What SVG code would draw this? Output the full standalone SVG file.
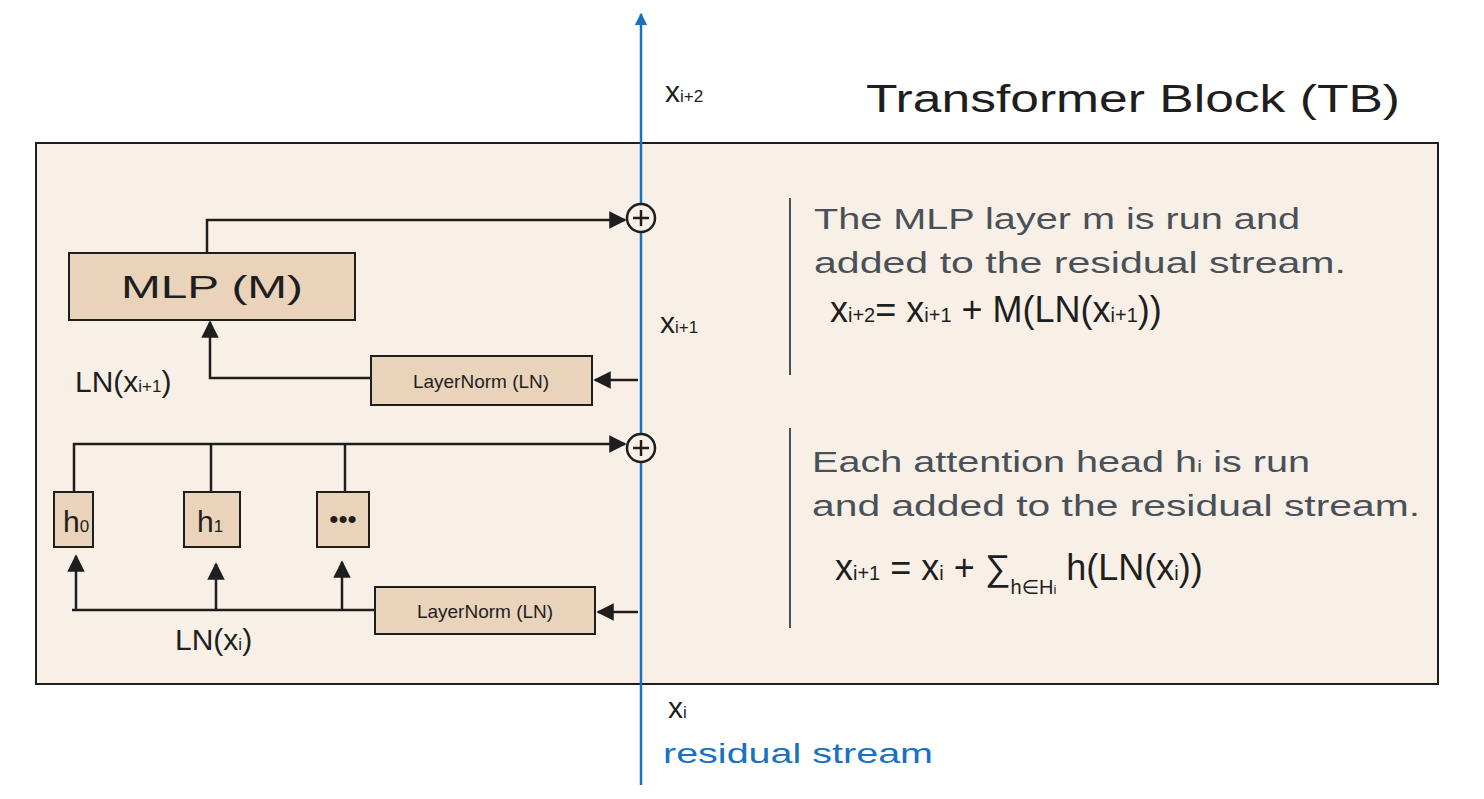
<svg xmlns="http://www.w3.org/2000/svg" width="1484" height="799" viewBox="0 0 1484 799">
<defs>
<style>
text{font-family:"Liberation Sans","DejaVu Sans",sans-serif}
.ln{stroke:#1e1e1e;stroke-width:2.5;fill:none}
.nd{fill:#e9d3ba;stroke:#1e1e1e;stroke-width:2}
.k{fill:#1e1e1e}
.g{fill:#495057;font-size:29px}
.m{fill:#1e1e1e;font-size:30px}
.s{font-size:17px}
.f{fill:#1e1e1e;font-size:36px}
.fs{font-size:20px}
</style>
<marker id="a" viewBox="0 0 10 10" refX="9" refY="5" markerWidth="7" markerHeight="7" orient="auto-start-reverse"><path d="M0,0L10,5L0,10z" fill="#1e1e1e"/></marker>
<marker id="b" viewBox="0 0 10 10" refX="9" refY="5" markerWidth="5" markerHeight="6" orient="auto"><path d="M0,0L10,5L0,10z" fill="#1971c2"/></marker>
</defs>
<rect width="1484" height="799" fill="#fff"/>
<g id="block"><rect x="36" y="143" width="1402" height="541" fill="#f8f0e7" stroke="#1e1e1e" stroke-width="2"/></g>
<text x="866" y="112" font-size="38" fill="#1e1e1e" textLength="534" lengthAdjust="spacingAndGlyphs">Transformer Block (TB)</text>
<g id="connectors">
<path d="M641,785V14" stroke="#1971c2" stroke-width="2.5" fill="none" marker-end="url(#b)"/>
<path class="ln" d="M207,253V220H625" marker-end="url(#a)"/>
<path class="ln" d="M638,380H595" marker-end="url(#a)"/>
<path class="ln" d="M371,378H210V322" marker-end="url(#a)"/>
<path class="ln" d="M74,492V444H625" marker-end="url(#a)"/>
<path class="ln" d="M211,492V444M345,492V444"/>
<path class="ln" d="M638,612H598" marker-end="url(#a)"/>
<path class="ln" d="M72,610H375"/>
<path class="ln" d="M76,610V556" marker-end="url(#a)"/>
<path class="ln" d="M216,610V564" marker-end="url(#a)"/>
<path class="ln" d="M342,610V562" marker-end="url(#a)"/>
<path d="M790,198V375M790,428V628" stroke="#495057" stroke-width="2"/>
</g>
<g id="plus1"><circle cx="641" cy="218" r="14" fill="#f8f0e7" stroke="#1e1e1e" stroke-width="2.5"/><path class="ln" d="M633,218h16M641,210v16"/></g>
<g id="plus2"><circle cx="641" cy="448" r="14" fill="#f8f0e7" stroke="#1e1e1e" stroke-width="2.5"/><path class="ln" d="M633,448h16M641,440v16"/></g>
<g id="mlp"><rect class="nd" x="69" y="253" width="286" height="67"/><text x="212" y="298" font-size="32" text-anchor="middle" fill="#1e1e1e" textLength="182" lengthAdjust="spacingAndGlyphs">MLP (M)</text></g>
<g id="ln1"><rect class="nd" x="371" y="356" width="221" height="49"/><text x="481" y="388" font-size="19" text-anchor="middle" fill="#1e1e1e">LayerNorm (LN)</text></g>
<g id="ln0"><rect class="nd" x="375" y="587" width="220" height="47"/><text x="485" y="618" font-size="19" text-anchor="middle" fill="#1e1e1e">LayerNorm (LN)</text></g>
<g id="h0"><rect class="nd" x="54" y="492" width="39" height="55"/><text x="63" y="532" font-size="30" class="k">h<tspan class="s">0</tspan></text></g>
<g id="h1"><rect class="nd" x="184" y="492" width="56" height="55"/><text x="197" y="532" font-size="30" class="k">h<tspan class="s">1</tspan></text></g>
<g id="hdots"><rect class="nd" x="317" y="492" width="52" height="55"/><text x="343" y="528" font-size="26" text-anchor="middle" class="k">•••</text></g>
<text x="75" y="392" class="m" font-size="26">LN(x<tspan class="s">i+1</tspan>)</text>
<text x="175" y="650" class="m" font-size="26">LN(x<tspan class="s">i</tspan>)</text>
<text x="665" y="102" class="m">x<tspan class="s">i+2</tspan></text>
<text x="660" y="333" class="m">x<tspan class="s">i+1</tspan></text>
<text x="668" y="718" class="m">x<tspan class="s">i</tspan></text>
<text x="663" y="763" font-size="28" fill="#1971c2" textLength="270" lengthAdjust="spacingAndGlyphs">residual stream</text>
<text x="814" y="229" class="g" textLength="486" lengthAdjust="spacingAndGlyphs">The MLP layer m is run and</text>
<text x="814" y="273" class="g" textLength="532" lengthAdjust="spacingAndGlyphs">added to the residual stream.</text>
<text x="830" y="322" class="f">x<tspan class="fs">i+2</tspan>= x<tspan class="fs">i+1</tspan> + M(LN(x<tspan class="fs">i+1</tspan>))</text>
<text x="812" y="472" class="g" textLength="498" lengthAdjust="spacingAndGlyphs">Each attention head h<tspan class="s">i</tspan> is run</text>
<text x="812" y="516" class="g" textLength="608" lengthAdjust="spacingAndGlyphs">and added to the residual stream.</text>
<text x="835" y="580" class="f">x<tspan class="fs">i+1</tspan> = x<tspan class="fs">i</tspan> + ∑<tspan class="fs" dy="14">h∈H</tspan><tspan font-size="13">i</tspan><tspan dy="-14"> h(LN(x</tspan><tspan class="fs">i</tspan>))</text>
</svg>
